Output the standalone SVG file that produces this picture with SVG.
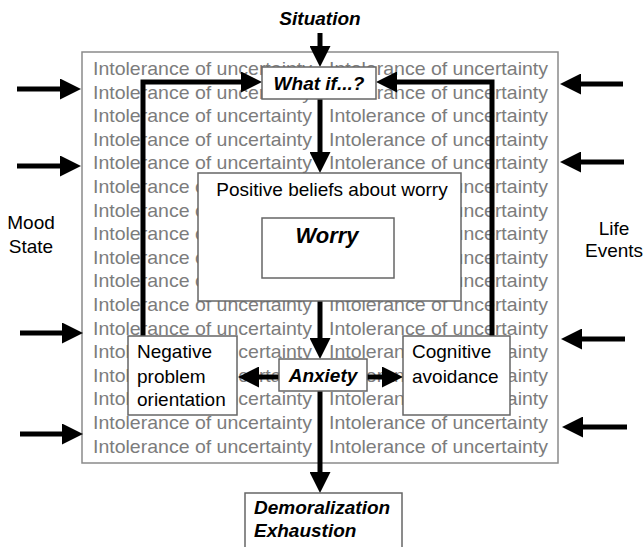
<svg xmlns="http://www.w3.org/2000/svg" width="644" height="547" viewBox="0 0 644 547">
<style>
text{font-family:"Liberation Sans",Arial,sans-serif;}
.bg{font-size:18.5px;fill:#7c7c7c;}
.lbl{font-size:19px;fill:#000;}
.bi{font-size:19px;font-weight:bold;font-style:italic;fill:#000;}
.box{fill:#fff;stroke:#666;stroke-width:1.5;}
.frame{fill:#fff;stroke:#8a8a8a;stroke-width:1.5;}
.conn{fill:none;stroke:#000;stroke-width:5;stroke-linejoin:miter;marker-end:url(#ah);}
</style>
<defs>
<marker id="ah" markerUnits="userSpaceOnUse" viewBox="0 0 21 21" markerWidth="21" markerHeight="21" refX="0" refY="10.5" orient="auto">
<path d="M0,0 L21,10.5 L0,21 z" fill="#000"/>
</marker>
</defs>
<rect width="644" height="547" fill="#fff"/>

<g id="frame">
<rect class="frame" x="82" y="52" width="476" height="411"/>
<g class="bg">
<text x="93" y="75" textLength="219" lengthAdjust="spacingAndGlyphs">Intolerance of uncertainty</text><text x="329" y="75" textLength="219" lengthAdjust="spacingAndGlyphs">Intolerance of uncertainty</text>
<text x="93" y="98.6" textLength="219" lengthAdjust="spacingAndGlyphs">Intolerance of uncertainty</text><text x="329" y="98.6" textLength="219" lengthAdjust="spacingAndGlyphs">Intolerance of uncertainty</text>
<text x="93" y="122.2" textLength="219" lengthAdjust="spacingAndGlyphs">Intolerance of uncertainty</text><text x="329" y="122.2" textLength="219" lengthAdjust="spacingAndGlyphs">Intolerance of uncertainty</text>
<text x="93" y="145.8" textLength="219" lengthAdjust="spacingAndGlyphs">Intolerance of uncertainty</text><text x="329" y="145.8" textLength="219" lengthAdjust="spacingAndGlyphs">Intolerance of uncertainty</text>
<text x="93" y="169.4" textLength="219" lengthAdjust="spacingAndGlyphs">Intolerance of uncertainty</text><text x="329" y="169.4" textLength="219" lengthAdjust="spacingAndGlyphs">Intolerance of uncertainty</text>
<text x="93" y="193" textLength="219" lengthAdjust="spacingAndGlyphs">Intolerance of uncertainty</text><text x="329" y="193" textLength="219" lengthAdjust="spacingAndGlyphs">Intolerance of uncertainty</text>
<text x="93" y="216.6" textLength="219" lengthAdjust="spacingAndGlyphs">Intolerance of uncertainty</text><text x="329" y="216.6" textLength="219" lengthAdjust="spacingAndGlyphs">Intolerance of uncertainty</text>
<text x="93" y="240.2" textLength="219" lengthAdjust="spacingAndGlyphs">Intolerance of uncertainty</text><text x="329" y="240.2" textLength="219" lengthAdjust="spacingAndGlyphs">Intolerance of uncertainty</text>
<text x="93" y="263.8" textLength="219" lengthAdjust="spacingAndGlyphs">Intolerance of uncertainty</text><text x="329" y="263.8" textLength="219" lengthAdjust="spacingAndGlyphs">Intolerance of uncertainty</text>
<text x="93" y="287.4" textLength="219" lengthAdjust="spacingAndGlyphs">Intolerance of uncertainty</text><text x="329" y="287.4" textLength="219" lengthAdjust="spacingAndGlyphs">Intolerance of uncertainty</text>
<text x="93" y="311" textLength="219" lengthAdjust="spacingAndGlyphs">Intolerance of uncertainty</text><text x="329" y="311" textLength="219" lengthAdjust="spacingAndGlyphs">Intolerance of uncertainty</text>
<text x="93" y="334.6" textLength="219" lengthAdjust="spacingAndGlyphs">Intolerance of uncertainty</text><text x="329" y="334.6" textLength="219" lengthAdjust="spacingAndGlyphs">Intolerance of uncertainty</text>
<text x="93" y="358.2" textLength="219" lengthAdjust="spacingAndGlyphs">Intolerance of uncertainty</text><text x="329" y="358.2" textLength="219" lengthAdjust="spacingAndGlyphs">Intolerance of uncertainty</text>
<text x="93" y="381.8" textLength="219" lengthAdjust="spacingAndGlyphs">Intolerance of uncertainty</text><text x="329" y="381.8" textLength="219" lengthAdjust="spacingAndGlyphs">Intolerance of uncertainty</text>
<text x="93" y="405.4" textLength="219" lengthAdjust="spacingAndGlyphs">Intolerance of uncertainty</text><text x="329" y="405.4" textLength="219" lengthAdjust="spacingAndGlyphs">Intolerance of uncertainty</text>
<text x="93" y="429" textLength="219" lengthAdjust="spacingAndGlyphs">Intolerance of uncertainty</text><text x="329" y="429" textLength="219" lengthAdjust="spacingAndGlyphs">Intolerance of uncertainty</text>
<text x="93" y="452.6" textLength="219" lengthAdjust="spacingAndGlyphs">Intolerance of uncertainty</text><text x="329" y="452.6" textLength="219" lengthAdjust="spacingAndGlyphs">Intolerance of uncertainty</text>
</g>
</g>

<g id="connectors">
<path class="conn" d="M320,33 V46"/>
<path class="conn" d="M143,336 V82 H241"/>
<path class="conn" d="M492,336 V82 H397"/>
<path class="conn" d="M320,99 V152"/>
<path class="conn" d="M320,301 V338"/>
<path class="conn" d="M279,377 H259"/>
<path class="conn" d="M367,377 H382"/>
<path class="conn" d="M320,391 V472"/>
<path class="conn" d="M17,89 H60"/>
<path class="conn" d="M17,166 H60"/>
<path class="conn" d="M20,333 H62"/>
<path class="conn" d="M20,434 H62"/>
<path class="conn" d="M623,84 H581"/>
<path class="conn" d="M624,162 H581"/>
<path class="conn" d="M625,339 H582"/>
<path class="conn" d="M627,427 H583"/>
</g>

<g id="situation">
<text class="bi" x="320" y="25" text-anchor="middle" font-size="18">Situation</text>
</g>
<g id="mood-state">
<text class="lbl" x="31" y="229" text-anchor="middle" font-size="18">Mood</text>
<text class="lbl" x="31" y="253" text-anchor="middle" font-size="18">State</text>
</g>
<g id="life-events">
<text class="lbl" x="614" y="235" text-anchor="middle" font-size="18">Life</text>
<text class="lbl" x="614" y="257" text-anchor="middle" font-size="18">Events</text>
</g>
<g id="what-if">
<rect class="box" x="262" y="67" width="114" height="32"/>
<text class="bi" x="319" y="90" text-anchor="middle">What if...?</text>
</g>
<g id="positive-beliefs">
<rect class="box" x="198" y="173" width="263" height="128"/>
<text class="lbl" x="332" y="196" text-anchor="middle">Positive beliefs about worry</text>
</g>
<g id="worry">
<rect class="box" x="262" y="218" width="132" height="60"/>
<text class="bi" x="327" y="243" text-anchor="middle" style="font-size:22px">Worry</text>
</g>
<g id="anxiety">
<rect class="box" x="279" y="359" width="88" height="32"/>
<text class="bi" x="323" y="382" text-anchor="middle">Anxiety</text>
</g>
<g id="negative-problem-orientation">
<rect class="box" x="128" y="336" width="109" height="79"/>
<text class="lbl" x="137" y="358">Negative</text>
<text class="lbl" x="137" y="383">problem</text>
<text class="lbl" x="137" y="406">orientation</text>
</g>
<g id="cognitive-avoidance">
<rect class="box" x="403" y="336" width="107" height="79"/>
<text class="lbl" x="412" y="358">Cognitive</text>
<text class="lbl" x="412" y="383">avoidance</text>
</g>
<g id="demoralization">
<rect class="box" x="245" y="493" width="157" height="70"/>
<text class="bi" x="254" y="514">Demoralization</text>
<text class="bi" x="254" y="537">Exhaustion</text>
</g>
</svg>
